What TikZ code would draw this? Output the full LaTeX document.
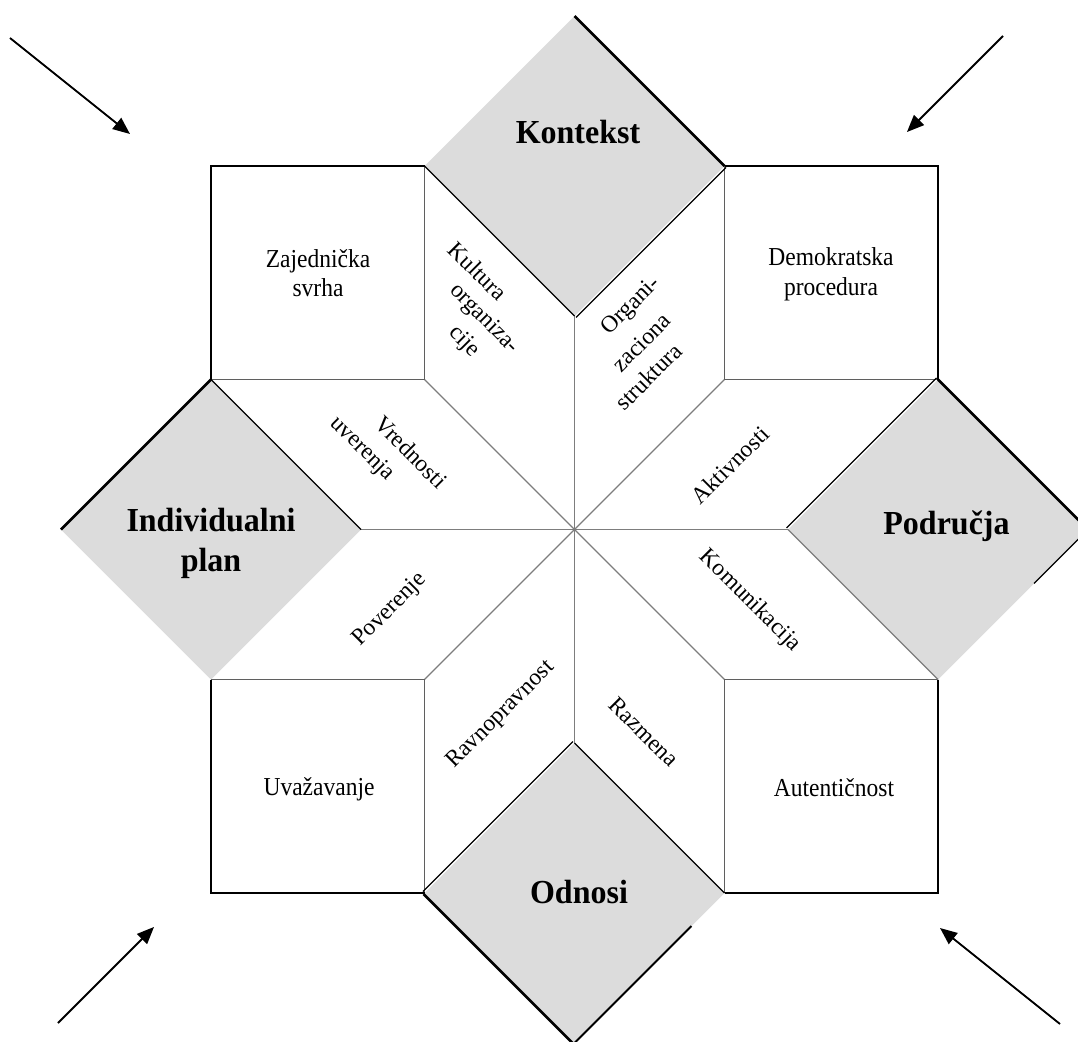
\documentclass[tikz,border=0pt]{standalone}
\usepackage{fontspec}
\setmainfont{Liberation Serif}
\usetikzlibrary{arrows.meta,calc}
\definecolor{dgray}{RGB}{220,220,220}
\definecolor{rayc}{RGB}{125,125,125}
\definecolor{sqin}{RGB}{95,95,95}
\begin{document}
\begin{tikzpicture}[x=1pt,y=-1pt,
  thickedge/.style={line width=2.8pt,black},
  thinedge/.style={line width=1.3pt,black},
  ray/.style={line width=1.3pt,rayc},
  sqouter/.style={line width=2.6pt,black},
  sqinner/.style={line width=1.8pt,sqin},
  bigtext/.style={font=\fontsize{32}{38}\selectfont\bfseries,align=center,inner sep=0pt,yscale=1.05},
  smalltext/.style={font=\fontsize{23.5}{27}\selectfont,align=center,inner sep=0pt},
  sqtext/.style={smalltext,yscale=1.1},
  rotup/.style={smalltext,rotate=45},
  rotdown/.style={smalltext,rotate=-45},
  flow/.style={line width=1.8pt,-{Triangle[length=17pt,width=14pt]}}
]
\useasboundingbox (0,0) rectangle (1078,1041);
\clip (0,0) rectangle (1078,1041);
% centre
\coordinate (C) at (574.5,529.5);
% diamonds
\coordinate (Tt) at (574.5,16);  \coordinate (Tl) at (424.5,166);
\coordinate (Tb) at (574.5,316); \coordinate (Tr) at (724.5,166);
\coordinate (Lt) at (211,379.5); \coordinate (Lr) at (361,529.5);
\coordinate (Lb) at (211,679.5); \coordinate (Ll) at (61,529.5);
\coordinate (Rt) at (938,379.5); \coordinate (Rl) at (788,529.5);
\coordinate (Rb) at (938,679.5); \coordinate (Rr) at (1088,529.5);
\coordinate (Bt) at (574.5,743); \coordinate (Bl) at (424.5,893);
\coordinate (Br) at (724.5,893); \coordinate (Bb) at (574.5,1043);
% square corners
\coordinate (S1) at (211,166);   \coordinate (Q1) at (424.5,379.5);
\coordinate (S2) at (938,166);   \coordinate (Q2) at (724.5,379.5);
\coordinate (S3) at (211,893);   \coordinate (Q3) at (424.5,679.5);
\coordinate (S4) at (938,893);   \coordinate (Q4) at (724.5,679.5);

% diamond fills
\fill[dgray] (Tt)--(Tr)--(Tb)--(Tl)--cycle;
\fill[dgray] (Lt)--(Lr)--(Lb)--(Ll)--cycle;
\fill[dgray] (Rt)--(Rr)--(Rb)--(Rl)--cycle;
\fill[dgray] (Bt)--(Br)--(Bb)--(Bl)--cycle;

% rays from the centre
\draw[ray] (C)--(Tb);
\draw[ray] (C)--(Bt);
\draw[ray] (C)--(Lr);
\draw[ray] (C)--(Rl);
\draw[ray] (C)--(Q1);
\draw[ray] (C)--(Q2);
\draw[ray] (C)--(Q3);
\draw[ray] (C)--(Q4);

% squares: inner edges
\draw[sqinner] (Tl)--(Q1)--(Lt);
\draw[sqinner] (Tr)--(Q2)--(Rt);
\draw[sqinner] (Lb)--(Q3)--(Bl);
\draw[sqinner] (Rb)--(Q4)--(Br);
% squares: outer edges
\draw[sqouter] (Lt)--(S1)--(Tl);
\draw[sqouter] (Tr)--(S2)--(Rt);
\draw[sqouter] (Lb)--(S3)--(Bl);
\draw[sqouter] (Rb)--(S4)--(Br);

% diamond edges
\draw[thickedge] (Tt)--(Tr);
\draw[thinedge] (Tl)--(Tb);
\draw[thinedge] ([shift={(1.5,1.5)}]Tb)--([shift={(1.5,1.5)}]Tr);

\draw[thickedge] (Rt)--(Rr);
\draw[thinedge] (Rr)--($(Rr)!0.36!(Rb)$);
\draw[thinedge] ([shift={(-1.5,-1.5)}]Rl)--([shift={(-1.5,-1.5)}]Rt);
\draw[ray] (Rl)--(Rb);

\draw[thickedge] ([shift={(-1,1)}]Bl)--([shift={(-1,1)}]Bb);
\draw[line width=2pt] (Bb)--($(Bb)!0.78!(Br)$);
\draw[thinedge] (Bt)--(Br);
\draw[thinedge] ([shift={(-1.5,-1.5)}]Bl)--([shift={(-1.5,-1.5)}]Bt);

\draw[thickedge] (Ll)--(Lt);
\draw[thinedge] (Lt)--(Lr);

% big labels
\node[bigtext] (kontekst) at (578,132) {Kontekst};
\node[bigtext] (indiv) at (211,543) {Individualni\\plan};
\node[bigtext] (podrucja) at (946.5,526) {Područja};
\node[bigtext] (odnosi) at (579,892) {Odnosi};

% square labels
\node[sqtext] (zaj) at (318,273) {Zajednička\\svrha};
\node[sqtext] (demo) at (831,274) {Demokratska\\procedura};
\node[sqtext] (uvaz) at (319,789) {Uvažavanje};
\node[sqtext] (aut) at (834,788) {Autentičnost};

% wedge labels
\node[rotdown] (kult1) at (478,271) {Kultura};
\node[rotdown] (kult2) at (484,319) {organiza-};
\node[rotdown] (kult3) at (464,342) {cije};
\node[rotup] (org1) at (631.5,306.5) {Organi-};
\node[rotup] (org2) at (641.5,342.5) {zaciona};
\node[rotup] (org3) at (648.5,376.5) {struktura};
\node[rotdown] (vred1) at (411,452) {Vrednosti};
\node[rotdown] (vred2) at (362,449) {uverenja};
\node[rotup] (akt) at (730,465) {Aktivnosti};
\node[rotup] (pov) at (390,610) {Poverenje};
\node[rotdown] (kom) at (750,601) {Komunikacija};
\node[rotup] (ravn) at (501,715) {Ravnopravnost};
\node[rotdown] (razm) at (644,732) {Razmena};

% corner arrows
\coordinate (a1s) at (10,38);    \coordinate (a1e) at (130,134);
\coordinate (a2s) at (1003,36);  \coordinate (a2e) at (907,132);
\coordinate (a3s) at (58,1023);  \coordinate (a3e) at (154,927);
\coordinate (a4s) at (1060,1024);\coordinate (a4e) at (940,928);
\draw[flow] (a1s)--(a1e);
\draw[flow] (a2s)--(a2e);
\draw[flow] (a3s)--(a3e);
\draw[flow] (a4s)--(a4e);
\end{tikzpicture}
\end{document}
